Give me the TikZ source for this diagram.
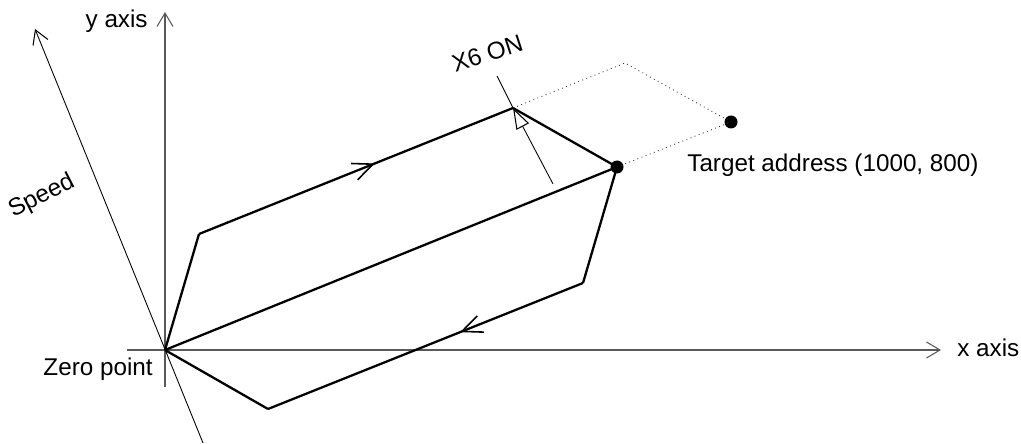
\documentclass[tikz,border=0pt]{standalone}
\usepackage{fontspec}
\setmainfont{Liberation Sans}
\usetikzlibrary{positioning,arrows.meta,decorations.markings}

\begin{document}
\begin{tikzpicture}[
      lbl/.style={inner sep=0pt,font=\fontsize{13.8}{16}\selectfont},
      ax/.style={line width=0.7pt,black!65,-{Straight Barb[length=0.27cm,width=0.32cm,line width=0.6pt]}},
      spd/.style={line width=0.5pt,-{Straight Barb[length=0.27cm,width=0.32cm,line width=0.6pt]}},
      run/.style={line width=1.3pt,line join=miter},
      flow/.style={decoration={markings,mark=at position #1 with
        {\arrow{Straight Barb[length=0.4cm,width=0.35cm,line width=0.9pt]}}},postaction={decorate}},
      aim/.style={line width=0.5pt,dotted,black!80},
      spot/.style={fill,circle,inner sep=0pt,minimum size=0.26cm}]
    \useasboundingbox (0,0) rectangle (20.42,8.86);
    % axes
    \coordinate (xs) at (2.54,1.86);  \coordinate (xe) at (18.82,1.86);
    \coordinate (ys) at (3.30,1.12);  \coordinate (ye) at (3.30,8.62);
    \coordinate (vs) at (4.06,0);     \coordinate (ve) at (0.70,8.28);
    \draw[ax](xs)--(xe);
    \draw[ax](ys)--(ye);
    \draw[spd](vs)--(ve);
    % path corners
    \coordinate (O) at (3.30,1.86);
    \coordinate (A) at (3.98,4.18);
    \coordinate (B) at (10.26,6.70);
    \coordinate (D) at (11.66,3.20);
    \coordinate (E) at (5.36,0.68);
    \coordinate (F) at (12.50,7.60);
    \node[spot](C) at (12.34,5.52) {};
    \node[spot](T) at (14.62,6.42) {};
    % target lines
    \draw[aim](B)--(F)--(T.center);
    \draw[aim](C.center)--(T.center);
    % travel
    \draw[run](O)--(A);
    \draw[run,flow=0.56](A)--(B);
    \draw[run](B)--(C.center);
    \draw[run](O)--(C.center);
    \draw[run](C.center)--(D);
    \draw[run,flow=0.39](D)--(E);
    \draw[run](E)--(O);
    % X6 marker
    \coordinate (m1) at (11.06,5.18); \coordinate (m2) at (9.94,7.34);
    \draw[line width=0.5pt,-{Triangle[open,length=0.42cm,width=0.28cm,line width=0.6pt]}](m1)--(B);
    \draw[line width=0.5pt](B)--(m2);
    % labels
    \node[lbl,anchor=base east](ylab) at (2.96,8.30) {y axis};
    \node[lbl,anchor=base west](xlab) at (19.14,1.74) {x axis};
    \node[lbl,anchor=base east](zlab) at (3.06,1.36) {Zero point};
    \node[lbl,anchor=base west,rotate=27](slab) at (0.26,4.50) {Speed};
    \node[lbl,anchor=base west,rotate=18](on) at (9.10,7.40) {X6 ON};
    \node[lbl,anchor=base west](tlab) at (13.74,5.42) {Target address (1000, 800)};
  \end{tikzpicture}
\end{document}
